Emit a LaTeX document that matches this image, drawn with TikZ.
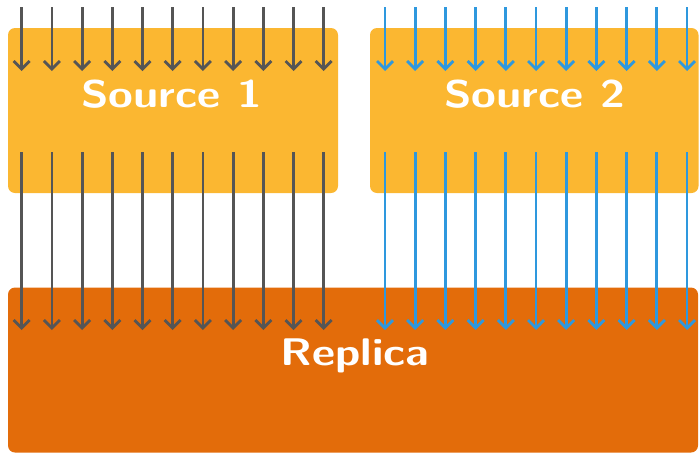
\documentclass[tikz,border=0pt]{standalone}
\usetikzlibrary{arrows.meta}
\definecolor{srcfill}{RGB}{251,183,49}
\definecolor{replfill}{RGB}{227,108,10}
\definecolor{flowgray}{RGB}{85,85,85}
\definecolor{flowblue}{RGB}{46,152,222}
\begin{document}
\begin{tikzpicture}[x=1pt,y=-1pt,
  block/.style={draw=none,rounded corners=7pt,inner sep=0pt,outer sep=0pt,minimum width=#1},
  srcbox/.style={block=330pt,fill=srcfill,minimum height=165pt},
  replbox/.style={block=690pt,fill=replfill,minimum height=165pt},
  title/.style={text=white,font=\fontsize{38.5}{38.5}\sffamily\bfseries,inner sep=0pt,xscale=1.17,transform shape},
  flow/.style={line width=2.8pt,-{Straight Barb[length=8pt,width=16pt,line width=2.8pt]}},
]
\useasboundingbox (0,0) rectangle (699,453);
% boxes
\node[srcbox] (s1) at (173,110.5) {};
\node[srcbox,minimum width=328.5pt] (s2) at (534.25,110.5) {};
\node[replbox] (rep) at (353,370) {};
% titles
\node[title] (t1) at (171.5,94.5) {Source 1};
\node[title] (t2) at (534.5,94.5) {Source 2};
\node[title] (t3) at (355,356) {Replica};
% flows into and out of each source
\foreach \i in {0,...,10}{
  \coordinate (ga\i) at ({21.7+30.2*\i},7);
  \coordinate (gb\i) at ({21.7+30.2*\i},71);
  \coordinate (gc\i) at ({21.7+30.2*\i},152);
  \coordinate (gd\i) at ({21.7+30.2*\i},330);
  \draw[flow,flowgray] (ga\i) -- (gb\i);
  \draw[flow,flowgray] (gc\i) -- (gd\i);
  \coordinate (ba\i) at ({385+30.2*\i},7);
  \coordinate (bb\i) at ({385+30.2*\i},71);
  \coordinate (bc\i) at ({385+30.2*\i},152);
  \coordinate (bd\i) at ({385+30.2*\i},330);
  \draw[flow,flowblue] (ba\i) -- (bb\i);
  \draw[flow,flowblue] (bc\i) -- (bd\i);
}
\end{tikzpicture}
\end{document}
